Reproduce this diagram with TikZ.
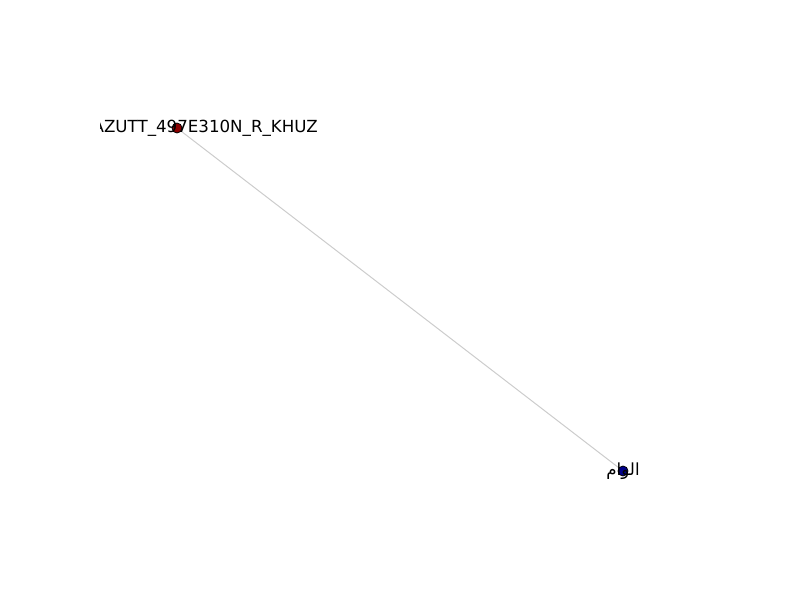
\documentclass[tikz,border=0pt]{standalone}
\usepackage{fontspec}
\usepackage{xcolor}
\usepackage{tikz}
\usetikzlibrary{positioning, calc, backgrounds}
\setmainfont{DejaVu Sans}
\newfontfamily\arabicfont[Script=Arabic]{DejaVu Sans}
\TeXXeTstate=1
\definecolor{nodered}{HTML}{8B0000}
\definecolor{nodeblue}{HTML}{00008B}
\definecolor{edgegray}{HTML}{CCCCCC}

\begin{document}
\begin{tikzpicture}[
    x=0.75pt, y=-0.75pt,
    station/.style={circle, draw=black, line width=0.6pt, fill=#1, minimum size=7.5pt, inner sep=0pt},
    link/.style={color=edgegray, line width=0.75pt},
    tag/.style={font=\fontsize{12.5}{15}\selectfont, inner sep=0pt, text=black}
]
\useasboundingbox (0,0) rectangle (800,600);

% Stations
\node[station=nodered] (khuz) at (177,128) {};
\node[station=nodeblue] (alwam) at (623,471) {};

% Link
\begin{scope}[on background layer]
\draw[link] (khuz.center) -- (alwam.center);
\end{scope}

% Labels (clipped to the plot area)
\begin{scope}
\clip (100,72) rectangle (720,528);
\node[tag, anchor=east] (khuzlabel) at ($(khuz)+(141,0)$) {AZUTT\_497E310N\_R\_KHUZ};
\node[tag] (alwamlabel) at (alwam) {\arabicfont\beginR الوام\endR};
\end{scope}

\end{tikzpicture}
\end{document}
